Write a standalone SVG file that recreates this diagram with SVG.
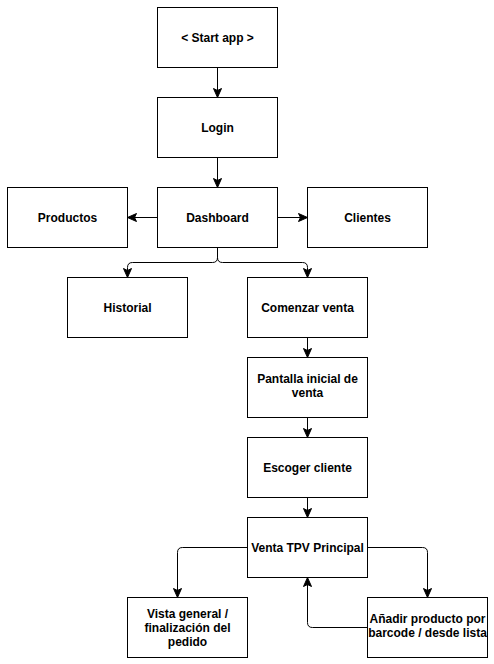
<svg xmlns="http://www.w3.org/2000/svg" width="494" height="664" viewBox="0 0 494 664">
<style>
.n rect{fill:#fff;stroke:#000;stroke-width:1}
.n text{font-family:"Liberation Sans",Arial,Helvetica,sans-serif;font-weight:bold;font-size:12px;fill:#000;text-anchor:middle}
.e path{fill:none;stroke:#000;stroke-width:1;marker-end:url(#arr)}
</style>
<defs>
<marker id="arr" markerUnits="userSpaceOnUse" viewBox="-10 -5 11 10" refX="0" refY="0" markerWidth="11" markerHeight="10" orient="auto" overflow="visible">
<path d="M0,0 L-9,-4 L-7,0 L-9,4 Z" fill="#000" stroke="#000" stroke-width="1"/>
</marker>
</defs>
<rect width="494" height="664" fill="#fff"/>
<g class="e">
<path d="M217.5 67.5 L217.5 97.5"/>
<path d="M217.5 157.5 L217.5 187.5"/>
<path d="M157.5 217.5 L127.5 217.5"/>
<path d="M277.5 217.5 L307.5 217.5"/>
<path d="M217.5 247.5 L217.5 257.5 Q217.5 262.5 212.5 262.5 L132.5 262.5 Q127.5 262.5 127.5 267.5 L127.5 277.5"/>
<path d="M217.5 247.5 L217.5 257.5 Q217.5 262.5 222.5 262.5 L302.5 262.5 Q307.5 262.5 307.5 267.5 L307.5 277.5"/>
<path d="M307.5 337.5 L307.5 357.5"/>
<path d="M307.5 417.5 L307.5 437.5"/>
<path d="M307.5 497.5 L307.5 517.5"/>
<path d="M247.5 547.5 L182.5 547.5 Q177.5 547.5 177.5 552.5 L177.5 597.5"/>
<path d="M367.5 547.5 L422.5 547.5 Q427.5 547.5 427.5 552.5 L427.5 597.5"/>
<path d="M367.5 627.5 L312.5 627.5 Q307.5 627.5 307.5 622.5 L307.5 577.5"/>
</g>
<g id="start" class="n"><rect x="157.5" y="7.5" width="120" height="60"/><text x="217.5" y="41.5">&lt; Start app &gt;</text></g>
<g id="login" class="n"><rect x="157.5" y="97.5" width="120" height="60"/><text x="217.5" y="131.5">Login</text></g>
<g id="dashboard" class="n"><rect x="157.5" y="187.5" width="120" height="60"/><text x="217.5" y="221.5">Dashboard</text></g>
<g id="productos" class="n"><rect x="7.5" y="187.5" width="120" height="60"/><text x="67.5" y="221.5">Productos</text></g>
<g id="clientes" class="n"><rect x="307.5" y="187.5" width="120" height="60"/><text x="367.5" y="221.5">Clientes</text></g>
<g id="historial" class="n"><rect x="67.5" y="277.5" width="120" height="60"/><text x="127.5" y="311.5">Historial</text></g>
<g id="comenzar" class="n"><rect x="247.5" y="277.5" width="120" height="60"/><text x="307.5" y="311.5">Comenzar venta</text></g>
<g id="pantalla" class="n"><rect x="247.5" y="357.5" width="120" height="60"/><text x="307.5" y="382.5">Pantalla inicial de</text><text x="307.5" y="396.5">venta</text></g>
<g id="escoger" class="n"><rect x="247.5" y="437.5" width="120" height="60"/><text x="307.5" y="471.5">Escoger cliente</text></g>
<g id="venta" class="n"><rect x="247.5" y="517.5" width="120" height="60"/><text x="307.5" y="551.5">Venta TPV Principal</text></g>
<g id="vista" class="n"><rect x="127.5" y="597.5" width="120" height="60"/><text x="187.5" y="617.5">Vista general /</text><text x="187.5" y="631.5">finalización del</text><text x="187.5" y="645.5">pedido</text></g>
<g id="anadir" class="n"><rect x="367.5" y="597.5" width="120" height="60"/><text x="427.5" y="623">Añadir producto por</text><text x="427.5" y="637">barcode / desde lista</text></g>
</svg>
